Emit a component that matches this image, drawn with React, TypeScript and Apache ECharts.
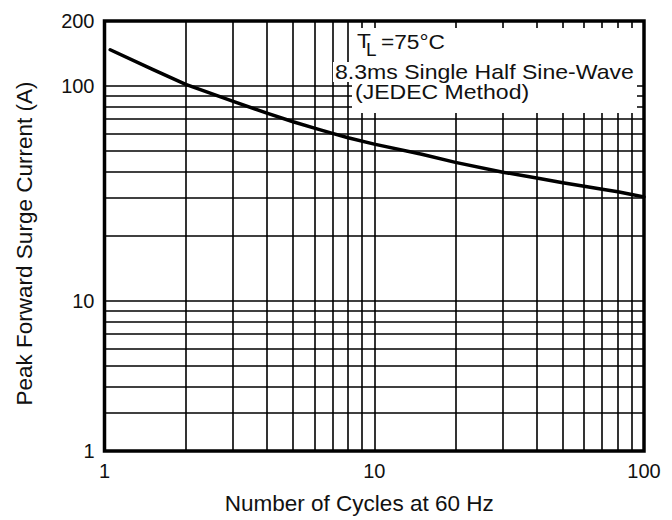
import React, { useEffect, useRef } from 'react';
import * as echarts from 'echarts';

const FONT = '"Liberation Sans", Arial, Helvetica, sans-serif';

// Curve: number of cycles vs peak forward surge current (A)
const cycles = [1.05, 1.5, 2, 3, 4, 5, 6, 7, 8, 10, 15, 20, 30, 40, 50, 60, 70, 80, 90, 100];
const surgeCurrent = [147, 119.5, 101.5, 84.5, 74.5, 68, 63.5, 60, 57.3, 53.5, 48, 44, 39.6, 37.2, 35.4, 34.1, 33, 32.1, 31.2, 30.4];

// Grid lines
const xGridValues = [2, 3, 4, 5, 6, 7, 8, 9, 10, 20, 30, 40, 50, 60, 70, 80, 90];
const yGridValues = [3, 4, 5, 6, 7, 8, 9, 10, 20, 30, 40, 50, 60, 70, 80, 90, 100];

// Axis ticks and labels (the reference labels its bottom edge "1")
const yTickValues = [2, 10, 100, 200];
const yTickLabels = ['1', '10', '100', '200'];
const xTickValues = [1, 10, 100];
const xTickLabels = ['1', '10', '100'];

const xAxisTitle = 'Number of Cycles at 60 Hz';
const yAxisTitle = 'Peak Forward Surge Current (A)';
const noteT = 'T';
const noteSub = 'L';
const noteTemp = '=75°C';
const noteLine2 = '8.3ms Single Half Sine-Wave';
const noteLine3 = '(JEDEC Method)';

function nearestLabel(v: number, values: number[], labels: string[]) {
  let best = 0;
  let bestD = Infinity;
  values.forEach((t, i) => {
    const d = Math.abs(Math.log10(v) - Math.log10(t));
    if (d < bestD) {
      bestD = d;
      best = i;
    }
  });
  return bestD < 0.02 ? labels[best] : '';
}

export default function App() {
  const ref = useRef<HTMLDivElement>(null);
  useEffect(() => {
    const chart = echarts.init(ref.current!, null, { renderer: 'svg' });
    const gridLines = [
      ...xGridValues.map((v) => ({ xAxis: v })),
      ...yGridValues.map((v) => ({ yAxis: v })),
    ];
    chart.setOption({
      animation: false,
      backgroundColor: '#fff',
      grid: {
        left: 104.5,
        right: 28,
        top: 21,
        bottom: 67,
        show: true,
        borderColor: '#000',
        borderWidth: 3.5,
        backgroundColor: '#fff',
      },
      xAxis: {
        type: 'log',
        logBase: 10,
        min: 1,
        max: 100,
        axisLine: { show: false },
        axisTick: { show: false },
        splitLine: { show: false },
        minorTick: { show: false },
        axisLabel: {
          fontFamily: FONT,
          fontSize: 20,
          color: '#111',
          margin: 10,
          formatter: (v: number) => nearestLabel(v, xTickValues, xTickLabels),
        },
        name: xAxisTitle,
        nameLocation: 'middle',
        nameGap: 41,
        nameTextStyle: {
          fontFamily: FONT,
          fontSize: 22.5,
          color: '#111',
          padding: [0, 30, 0, 0],
        },
      },
      yAxis: {
        type: 'log',
        logBase: 10,
        min: 2,
        max: 200,
        axisLine: { show: false },
        axisTick: { show: false },
        splitLine: { show: false },
        minorTick: { show: false },
        axisLabel: {
          fontFamily: FONT,
          fontSize: 20,
          color: '#111',
          margin: 10,
          padding: [0, 0, 9, 0],
          formatter: (v: number) => nearestLabel(v, yTickValues, yTickLabels),
        },
        name: yAxisTitle,
        nameLocation: 'middle',
        nameRotate: 90,
        nameGap: 69,
        nameTextStyle: {
          fontFamily: FONT,
          fontSize: 22.5,
          color: '#111',
          padding: [0, 15, 0, 0],
        },
      },
      series: [
        {
          type: 'line',
          data: cycles.map((c, i) => [c, surgeCurrent[i]]),
          smooth: false,
          showSymbol: false,
          symbol: 'none',
          z: 3,
          lineStyle: { color: '#000', width: 3.5, join: 'round', cap: 'round' },
          silent: true,
          markLine: {
            z: 1,
            silent: true,
            symbol: ['none', 'none'],
            label: { show: false },
            emphasis: { disabled: true },
            lineStyle: { color: '#000', width: 1.6, type: 'solid' },
            data: gridLines,
          },
        },
      ],
      graphic: [
        { type: 'rect', z: 100, shape: { x: 352, y: 28, width: 285, height: 85 }, style: { fill: '#fff' } },
        { type: 'rect', z: 100, shape: { x: 333, y: 62, width: 20, height: 20 }, style: { fill: '#fff' } },
        {
          type: 'text', z: 101, x: 357, y: 41, scaleX: 1.08,
          style: { text: noteT, fontFamily: FONT, fontSize: 21, fill: '#111', align: 'left', verticalAlign: 'middle' },
        },
        {
          type: 'text', z: 101, x: 366, y: 49.5, scaleX: 1.05,
          style: { text: noteSub, fontFamily: FONT, fontSize: 18, fill: '#111', align: 'left', verticalAlign: 'middle' },
        },
        {
          type: 'text', z: 101, x: 381, y: 41.5, scaleX: 1.08,
          style: { text: noteTemp, fontFamily: FONT, fontSize: 21, fill: '#111', align: 'left', verticalAlign: 'middle' },
        },
        {
          type: 'text', z: 101, x: 335, y: 72, scaleX: 1.125,
          style: { text: noteLine2, fontFamily: FONT, fontSize: 20.5, fill: '#111', align: 'left', verticalAlign: 'middle' },
        },
        {
          type: 'text', z: 101, x: 355, y: 92, scaleX: 1.125,
          style: { text: noteLine3, fontFamily: FONT, fontSize: 20.5, fill: '#111', align: 'left', verticalAlign: 'middle' },
        },
      ],
    });
    return () => chart.dispose();
  }, []);
  return (
    <div
      ref={ref}
      style={{ position: 'fixed', left: 0, top: 0, width: 672, height: 520, background: '#fff' }}
    />
  );
}
